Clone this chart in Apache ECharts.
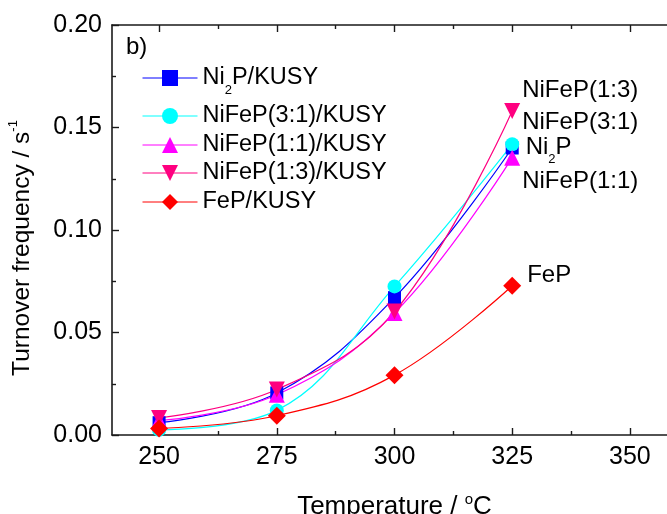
<!DOCTYPE html>
<html>
<head>
<meta charset="utf-8">
<script src="https://cdn.jsdelivr.net/npm/echarts@6/dist/echarts.min.js"></script>
<style>
  html, body { margin: 0; padding: 0; background: #fff; }
  #main { width: 667px; height: 514px; }
</style>
</head>
<body>
<div id="main"></div>
<script type="text/javascript">
    // data
    var temps = [250, 275, 300, 325];
    var ni2p = [0.0060, 0.0205, 0.0670, 0.1400];
    var nifep31 = [0.0025, 0.0120, 0.0725, 0.1418];
    var nifep11 = [0.0070, 0.0196, 0.0595, 0.1353];
    var nifep13 = [0.0083, 0.0222, 0.0602, 0.1580];
    var fep = [0.0032, 0.0094, 0.0292, 0.0728];

    var xTicks = [250, 275, 300, 325, 350];
    var xMinorTicks = [262.5, 287.5, 312.5, 337.5];

    var names = ['Ni2P/KUSY', 'NiFeP(3:1)/KUSY', 'NiFeP(1:1)/KUSY', 'NiFeP(1:3)/KUSY', 'FeP/KUSY'];
    var endNames = ['Ni2P', 'NiFeP(3:1)', 'NiFeP(1:1)', 'NiFeP(1:3)', 'FeP'];
    var values = [ni2p, nifep31, nifep11, nifep13, fep];

    var colors = ['#0000ff', '#00ffff', '#ff00ff', '#ff0080', '#ff0000'];
    var downTri = 'path://M0,0 L10,0 L5,10 Z';
    var symbols = ['rect', 'circle', 'triangle', downTri, 'diamond'];
    var symbolSizes = [13, 14, 16, 16, 18];
    // end label offsets (style only)
    var labelOffsets = [[7, -1], [3, -22], [2, 24], [2, -21], [6, -10]];
    var legendTops = [59, 102, 131, 159, 188];

    var font = 'Liberation Sans, Arial, sans-serif';

    // Ni2P gets a subscript 2
    function richName(n) {
        if (n.indexOf('Ni2P') === 0) {
            return '{t|Ni}{sub|2}{t|P' + n.slice(4) + '}';
        }
        return '{m|' + n + '}';
    }

    var richStyles = {
        m: { fontSize: 23.5, fontFamily: font, color: '#000', lineHeight: 28 },
        t: { fontSize: 23.5, fontFamily: font, color: '#000', lineHeight: 38 },
        sub: { fontSize: 13, fontFamily: font, color: '#000', lineHeight: 14, verticalAlign: 'bottom' }
    };

    var myChart = echarts.init(document.getElementById('main'), null, { renderer: 'canvas' });

    var axisLine = { show: true, lineStyle: { color: '#1a1a1a', width: 1.6 } };

    var legends = names.map(function (n, i) {
        return {
            data: [n],
            left: 142,
            top: legendTops[i],
            padding: 0,
            itemWidth: 55,
            itemHeight: 20,
            itemGap: 0,
            selectedMode: false,
            lineStyle: { width: 1 },
            formatter: function (name) { return richName(name); },
            textStyle: { fontSize: 23.5, fontFamily: font, color: '#000', lineHeight: 28, rich: richStyles }
        };
    });

    var series = names.map(function (n, i) {
        var data = temps.map(function (t, j) {
            var item = { value: [t, values[i][j]] };
            if (j === temps.length - 1) {
                item.label = {
                    show: true,
                    position: 'right',
                    distance: 0,
                    offset: labelOffsets[i],
                    formatter: richName(endNames[i]),
                    rich: {
                        m: { fontSize: 24, fontFamily: font, color: '#000', lineHeight: 28 },
                        t: { fontSize: 24, fontFamily: font, color: '#000', lineHeight: 38 },
                        sub: { fontSize: 13, fontFamily: font, color: '#000', lineHeight: 14, verticalAlign: 'bottom' }
                    }
                };
            }
            return item;
        });
        return {
            name: n,
            type: 'line',
            xAxisIndex: 0,
            yAxisIndex: 0,
            smooth: 0.4,
            symbol: symbols[i],
            symbolSize: symbolSizes[i],
            showAllSymbol: true,
            color: colors[i],
            itemStyle: { color: colors[i] },
            lineStyle: { color: colors[i], width: 1.2 },
            emphasis: { disabled: true },
            animation: false,
            data: data
        };
    });

    myChart.setOption({
        animation: false,
        title: {
            text: 'b)',
            left: 126,
            top: 35,
            padding: 0,
            textStyle: { fontSize: 24, fontWeight: 'normal', fontFamily: font, color: '#000' }
        },
        legend: legends,
        grid: { left: 112, top: 25, width: 565, height: 410, containLabel: false, outerBoundsMode: 'none' },
        xAxis: [
            {
                type: 'value', min: 240, max: 360, position: 'bottom',
                name: '{m|Temperature / }{sup|o}{m|C}',
                nameLocation: 'middle',
                nameGap: 57,
                nameTextStyle: {
                    rich: {
                        m: { fontSize: 26, fontFamily: font, color: '#000', lineHeight: 30 },
                        sup: { fontSize: 15, fontFamily: font, color: '#000', lineHeight: 16, verticalAlign: 'top' }
                    }
                },
                axisLine: axisLine,
                axisTick: { show: true, inside: true, length: 7, customValues: xTicks, lineStyle: { color: '#1a1a1a', width: 1.4 } },
                axisLabel: { show: true, margin: 10, customValues: xTicks, fontSize: 25, fontFamily: font, color: '#000' },
                splitLine: { show: false }
            },
            {
                type: 'value', min: 240, max: 360, position: 'bottom',
                axisLine: { show: false },
                axisTick: { show: true, inside: true, length: 4, customValues: xMinorTicks, lineStyle: { color: '#1a1a1a', width: 1.4 } },
                axisLabel: { show: false },
                splitLine: { show: false }
            },
            {
                type: 'value', min: 240, max: 360, position: 'top',
                axisLine: axisLine,
                axisTick: { show: true, inside: true, length: 7, customValues: xTicks, lineStyle: { color: '#1a1a1a', width: 1.4 } },
                axisLabel: { show: false },
                splitLine: { show: false }
            },
            {
                type: 'value', min: 240, max: 360, position: 'top',
                axisLine: { show: false },
                axisTick: { show: true, inside: true, length: 4, customValues: xMinorTicks, lineStyle: { color: '#1a1a1a', width: 1.4 } },
                axisLabel: { show: false },
                splitLine: { show: false }
            }
        ],
        yAxis: [
            {
                type: 'value', min: 0, max: 0.2, interval: 0.05, position: 'left',
                name: '{m|Turnover frequency / s}{sup|-1}',
                nameLocation: 'middle',
                nameRotate: 90,
                nameGap: 75,
                nameTextStyle: {
                    padding: [0, 36, 0, 0],
                    rich: {
                        m: { fontSize: 24.5, fontFamily: font, color: '#000', lineHeight: 30 },
                        sup: { fontSize: 13, fontFamily: font, color: '#000', lineHeight: 14, verticalAlign: 'top' }
                    }
                },
                axisLine: axisLine,
                axisTick: { show: true, inside: true, length: 7, lineStyle: { color: '#1a1a1a', width: 1.4 } },
                minorTick: { show: true, splitNumber: 2, length: 4, lineStyle: { color: '#1a1a1a', width: 1.4 } },
                axisLabel: {
                    margin: 10, fontSize: 25, fontFamily: font, color: '#000',
                    formatter: function (v) { return v.toFixed(2); }
                },
                splitLine: { show: false },
                minorSplitLine: { show: false }
            }
        ],
        series: series
    });
</script>
</body>
</html>
